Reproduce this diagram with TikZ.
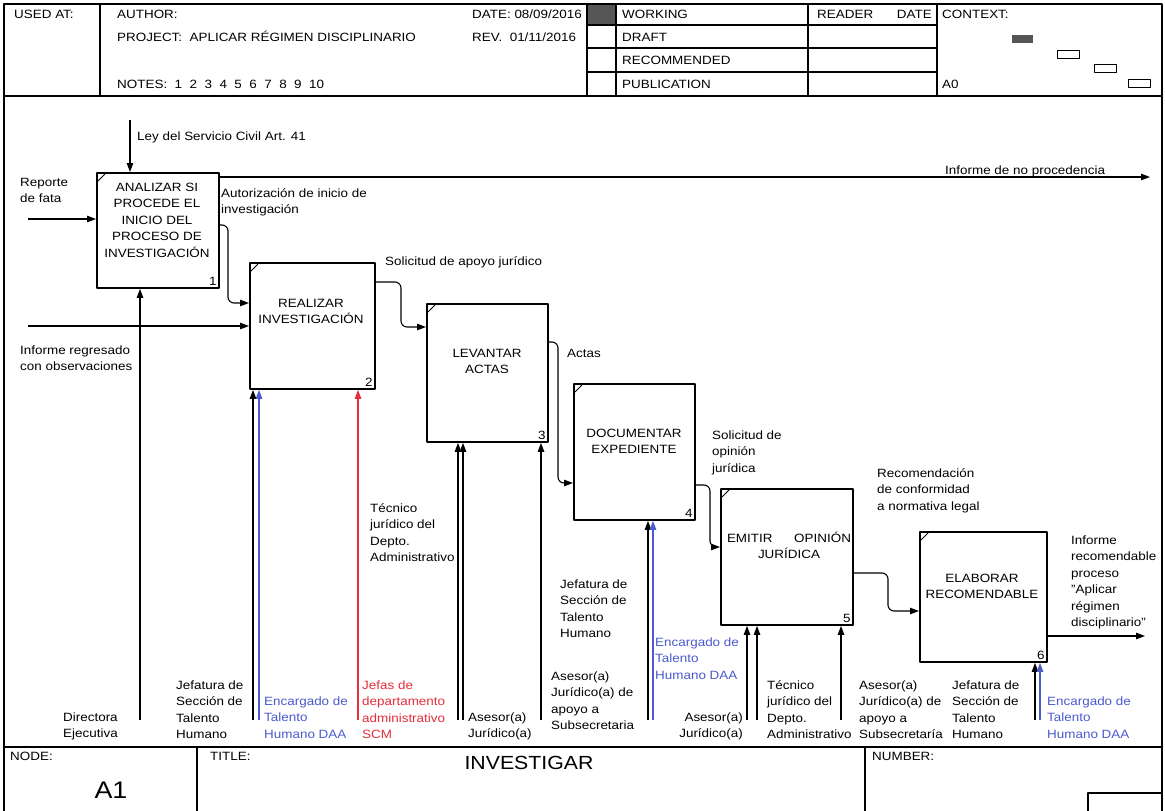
\documentclass[tikz,border=0pt]{standalone}
\usepackage{fontspec}
\setmainfont{Liberation Sans}[FakeStretch=1.12]
\usetikzlibrary{arrows.meta}
\definecolor{ublue}{RGB}{75,90,205}
\definecolor{ured}{RGB}{230,45,60}
\definecolor{darkcell}{RGB}{85,85,85}
\tikzset{
  frame/.style={line width=1.3pt, line cap=round},
  thin/.style={line width=1pt},
  actbox/.style={draw, line width=1.9pt, anchor=north west, inner sep=0pt},
  conn/.style={line width=1.1pt, rounded corners=6pt, -{Triangle[length=9pt,width=6.5pt]}},
  bconn/.style={conn, draw=ublue},
  rconn/.style={conn, draw=ured},
  txt/.style={inner sep=0pt, anchor=base west, align=left},
  rtxt/.style={inner sep=0pt, anchor=base east, align=right},
  ctxt/.style={inner sep=0pt, anchor=base, align=center},
  num/.style={inner sep=0pt, anchor=south east},
}
\begin{document}
\begin{tikzpicture}[x=1pt,y=-1pt,font=\fontsize{12}{16.5}\selectfont, line join=round]
\useasboundingbox (0,0) rectangle (1165,811);
\fill[white] (0,0) rectangle (1165,811);

% ---------- frame ----------
\draw[frame] (4,811) -- (4,4) -- (1162,4) -- (1162,811);
\draw[frame] (4,96) -- (1162,96);
\draw[frame] (4,747) -- (1162,747);
\foreach \xx in {100,587,616,808,937} \draw[frame] (\xx,4) -- (\xx,96);
\foreach \yy in {25,48,72} \draw[frame] (587,\yy) -- (937,\yy);
\fill[darkcell] (588,5) rectangle (615,24);
\draw[frame] (197,747) -- (197,811);
\draw[frame] (865,747) -- (865,811);
\draw[frame] (1088,811) -- (1088,793) -- (1162,793);

% ---------- header text ----------
\node[txt] (usedat) at (14,18.5) {USED AT:};
\node[txt] (author) at (117,18.5) {AUTHOR:};
\node[txt] (project) at (117,41.5) {PROJECT:\ \ APLICAR RÉGIMEN DISCIPLINARIO};
\node[txt] (notes) at (117,88.5) {NOTES:\ \ 1\ \ 2\ \ 3\ \ 4\ \ 5\ \ 6\ \ 7\ \ 8\ \ 9\ \ 10};
\node[txt] (date) at (472,18.5) {DATE:\ 08/09/2016};
\node[txt] (rev) at (472,41.5) {REV.\ \ 01/11/2016};
\node[txt] (working) at (622,18.5) {WORKING};
\node[txt] (draft) at (622,41.5) {DRAFT};
\node[txt] (recom) at (622,64.5) {RECOMMENDED};
\node[txt] (publ) at (622,88.5) {PUBLICATION};
\node[txt] (reader) at (817,18.5) {READER};
\node[rtxt] (rdate) at (932,18.5) {DATE};
\node[txt] (context) at (942,18.5) {CONTEXT:};
\node[txt] (a0) at (942,88.5) {A0};
\fill[darkcell] (1012,35) rectangle (1033,43);
\draw[thin] (1057,50) rectangle (1079,58);
\draw[thin] (1094,64) rectangle (1116,72);
\draw[thin] (1128,79) rectangle (1150,87);

% ---------- footer text ----------
\node[txt] (nodelbl) at (10,760) {NODE:};
\node[txt] (titlelbl) at (210,760) {TITLE:};
\node[txt] (numlbl) at (872,760) {NUMBER:};
\node[inner sep=0pt, font=\fontsize{24}{26}\selectfont] (a1) at (111,790) {A1};
\node[inner sep=0pt, font=\fontsize{19}{22}\selectfont] (title) at (529,763) {INVESTIGAR};

% ---------- activity boxes ----------
\node[actbox, minimum width=122pt, minimum height=115pt] (b1) at (96,172) {};
\node[actbox, minimum width=125pt, minimum height=126pt] (b2) at (249,262) {};
\node[actbox, minimum width=121pt, minimum height=138pt] (b3) at (426,303) {};
\node[actbox, minimum width=121pt, minimum height=136pt] (b4) at (573,383) {};
\node[actbox, minimum width=132pt, minimum height=136pt] (b5) at (720,488) {};
\node[actbox, minimum width=127pt, minimum height=130pt] (b6) at (919,531) {};
\foreach \b/\n in {b1/1,b2/2,b3/3,b4/4,b5/5,b6/6}{
  \draw[line width=1pt] ([shift={(2,9)}]\b.north west) -- ([shift={(9,2)}]\b.north west);
  \node[num] (n\n) at ([shift={(-3,-3)}]\b.south east) {\n};
}
\node[ctxt] (t1) at (157,257.3) {ANALIZAR SI\\PROCEDE EL\\INICIO DEL\\PROCESO DE\\INVESTIGACIÓN};
\node[ctxt] (t2) at (311,323.8) {REALIZAR\\INVESTIGACIÓN};
\node[ctxt] (t3) at (487,373.8) {LEVANTAR\\ACTAS};
\node[ctxt] (t4) at (634,453.8) {DOCUMENTAR\\EXPEDIENTE};
\node[ctxt] (t5) at (789,558.8) {\makebox[124pt][s]{EMITIR\hfill OPINIÓN}\\JURÍDICA};
\node[ctxt] (t6) at (982,598.8) {ELABORAR\\RECOMENDABLE};

% ---------- inputs / controls / outputs ----------
\coordinate (ley) at (130,120);
\draw[conn] (ley) -- (ley |- b1.north);
\node[txt] (leyl) at (137,140.3) {Ley del Servicio Civil Art. 41};

\coordinate (rep) at (28,219);
\draw[conn] (rep) -- (rep -| b1.west);
\node[txt] (repl) at (20,202.8) {Reporte\\de fata};

\coordinate (nop) at (1150,177);
\draw[conn] (nop -| b1.east) -- (nop);
\node[txt] (nopl) at (945,174.3) {Informe de no procedencia};

\draw[conn] (b1.east |- 0,225) -- (228,225) -- (228,303) -- (b2.west |- 0,303);
\node[txt] (autl) at (221,213.8) {Autorización de inicio de\\investigación};

\coordinate (reg) at (28,326);
\draw[conn] (reg) -- (reg -| b2.west);
\node[txt] (regl) at (20,370.8) {Informe regresado\\con observaciones};

\draw[conn] (b2.east |- 0,282) -- (401,282) -- (401,327) -- (b3.west |- 0,327);
\node[txt] (sajl) at (385,265.3) {Solicitud de apoyo jurídico};

\draw[conn] (b3.east |- 0,342) -- (558,342) -- (558,483) -- (b4.west |- 0,483);
\node[txt] (actl) at (567,357.3) {Actas};

\draw[conn] (b4.east |- 0,485) -- (710,485) -- (710,547) -- (b5.west |- 0,547);
\node[txt] (sojl) at (712,472.3) {Solicitud de\\opinión\\jurídica};

\draw[conn] (b5.east |- 0,573) -- (888,573) -- (888,611) -- (b6.west |- 0,611);
\node[txt] (recl) at (877,510.3) {Recomendación\\de conformidad\\a normativa legal};

\coordinate (outf) at (1145,636);
\draw[conn] (outf -| b6.east) -- (outf);
\node[txt] (outl) at (1071,626.8) {Informe\\recomendable\\proceso\\"Aplicar\\régimen\\disciplinario"};

% ---------- mechanisms ----------
\coordinate (m1) at (140,720);
\draw[conn] (m1) -- (m1 |- b1.south);
\node[txt] (m1l) at (63,737.8) {Directora\\Ejecutiva};

\coordinate (m2a) at (253,720);
\coordinate (m2b) at (259,720);
\coordinate (m2c) at (358,720);
\draw[conn] (m2a) -- (m2a |- b2.south);
\draw[bconn] (m2b) -- (m2b |- b2.south);
\draw[rconn] (m2c) -- (m2c |- b2.south);
\node[txt] (m2al) at (176,738.8) {Jefatura de\\Sección de\\Talento\\Humano};
\node[txt, text=ublue] (m2bl) at (264,738.3) {Encargado de\\Talento\\Humano DAA};
\node[txt, text=ured] (m2cl) at (362,738.8) {Jefas de\\departamento\\administrativo\\SCM};

\coordinate (m3a) at (458,720);
\coordinate (m3b) at (463,720);
\coordinate (m3c) at (541,720);
\draw[conn] (m3a) -- (m3a |- b3.south);
\draw[conn] (m3b) -- (m3b |- b3.south);
\draw[conn] (m3c) -- (m3c |- b3.south);
\node[txt] (m3al) at (370,561.8) {Técnico\\jurídico del\\Depto.\\Administrativo};
\node[txt] (m3bl) at (468,737.8) {Asesor(a)\\Jurídico(a)};
\node[txt] (m3cl) at (551,729.8) {Asesor(a)\\Jurídico(a) de\\apoyo a\\Subsecretaria};

\coordinate (m4a) at (648,720);
\coordinate (m4b) at (653,720);
\draw[conn] (m4a) -- (m4a |- b4.south);
\draw[bconn] (m4b) -- (m4b |- b4.south);
\node[txt] (m4al) at (560,637.8) {Jefatura de\\Sección de\\Talento\\Humano};
\node[txt, text=ublue] (m4bl) at (655,679.3) {Encargado de\\Talento\\Humano DAA};

\coordinate (m5a) at (747,720);
\coordinate (m5b) at (757,720);
\coordinate (m5c) at (841,720);
\draw[conn] (m5a) -- (m5a |- b5.south);
\draw[conn] (m5b) -- (m5b |- b5.south);
\draw[conn] (m5c) -- (m5c |- b5.south);
\node[rtxt] (m5al) at (743,737.8) {Asesor(a)\\Jurídico(a)};
\node[txt] (m5bl) at (767,738.8) {Técnico\\jurídico del\\Depto.\\Administrativo};
\node[txt] (m5cl) at (859,738.8) {Asesor(a)\\Jurídico(a) de\\apoyo a\\Subsecretaría};

\coordinate (m6a) at (1035,720);
\coordinate (m6b) at (1040,720);
\draw[conn] (m6a) -- (m6a |- b6.south);
\draw[bconn] (m6b) -- (m6b |- b6.south);
\node[txt] (m6al) at (952,738.8) {Jefatura de\\Sección de\\Talento\\Humano};
\node[txt, text=ublue] (m6bl) at (1047,738.3) {Encargado de\\Talento\\Humano DAA};
\end{tikzpicture}
\end{document}
